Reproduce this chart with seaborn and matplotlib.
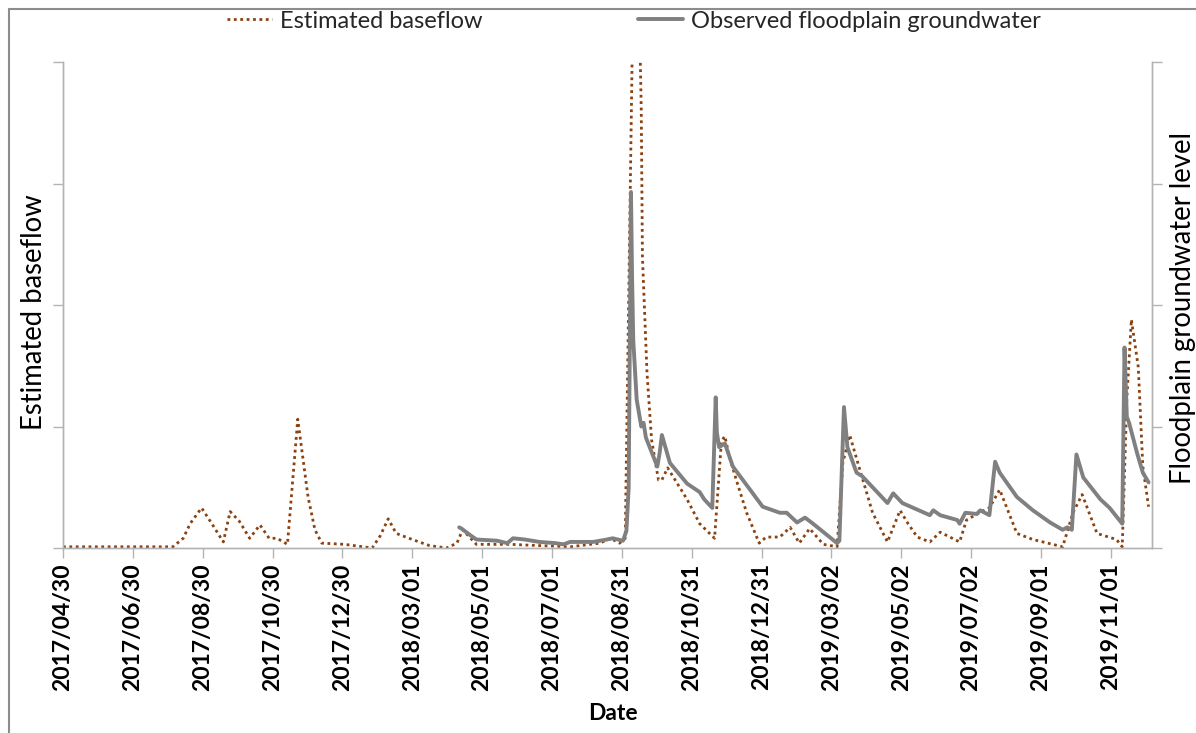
import matplotlib
matplotlib.use("Agg")
import matplotlib.pyplot as plt
from matplotlib.lines import Line2D
import seaborn as sns
import pandas as pd

# ---------------- data ----------------
baseflow_dates = [
    "2017-04-30", "2017-07-15", "2017-08-04", "2017-08-13", "2017-08-19", "2017-08-29",
    "2017-09-07", "2017-09-17", "2017-09-23", "2017-10-01", "2017-10-10", "2017-10-19",
    "2017-10-27", "2017-11-03", "2017-11-12", "2017-11-21", "2017-11-30", "2017-12-06",
    "2017-12-12", "2018-01-01", "2018-01-25", "2018-02-01", "2018-02-08", "2018-02-15",
    "2018-03-01", "2018-03-16", "2018-03-31", "2018-04-09", "2018-04-14", "2018-04-26",
    "2018-05-25", "2018-06-20", "2018-07-17", "2018-08-12", "2018-08-21", "2018-08-29",
    "2018-09-03", "2018-09-12", "2018-09-17", "2018-09-18", "2018-09-22", "2018-09-26",
    "2018-10-02", "2018-10-05", "2018-10-10", "2018-10-27", "2018-11-07", "2018-11-20",
    "2018-11-26", "2018-11-29", "2018-12-03", "2018-12-09", "2018-12-18", "2018-12-29",
    "2019-01-04", "2019-01-16", "2019-01-25", "2019-02-02", "2019-02-11", "2019-02-23",
    "2019-03-07", "2019-03-12", "2019-03-18", "2019-03-27", "2019-04-07", "2019-04-20",
    "2019-05-01", "2019-05-08", "2019-05-16", "2019-05-27", "2019-06-05", "2019-06-22",
    "2019-06-28", "2019-07-09", "2019-07-18", "2019-07-27", "2019-08-11", "2019-08-25",
    "2019-09-20", "2019-09-29", "2019-10-07", "2019-10-20", "2019-11-06", "2019-11-11",
    "2019-11-15", "2019-11-19", "2019-11-25", "2019-11-29", "2019-12-04",
]
baseflow_values = [
    0.01, 0.01, 0.01, 0.08, 0.20, 0.33,
    0.20, 0.05, 0.30, 0.22, 0.08, 0.19,
    0.08, 0.08, 0.03, 1.06, 0.42, 0.15,
    0.04, 0.03, 0.00, 0.10, 0.24, 0.12,
    0.07, 0.02, 0.00, 0.04, 0.15, 0.03,
    0.03, 0.02, 0.01, 0.04, 0.08, 0.04,
    0.08, 6.00, 3.60, 2.40, 1.44, 0.89,
    0.56, 0.56, 0.66, 0.40, 0.20, 0.08,
    0.88, 0.92, 0.75, 0.56, 0.29, 0.04,
    0.09, 0.09, 0.17, 0.04, 0.16, 0.03,
    0.01, 0.70, 0.93, 0.64, 0.29, 0.05,
    0.31, 0.20, 0.09, 0.05, 0.13, 0.05,
    0.23, 0.29, 0.33, 0.48, 0.12, 0.07,
    0.01, 0.29, 0.44, 0.12, 0.07, 0.01,
    1.22, 1.88, 1.49, 0.67, 0.34,
]

gw_dates = [
    "2018-04-11", "2018-04-13", "2018-04-20", "2018-04-26", "2018-05-14", "2018-05-23",
    "2018-05-28", "2018-06-07", "2018-06-20", "2018-07-04", "2018-07-11", "2018-07-17",
    "2018-08-06", "2018-08-18", "2018-08-23", "2018-09-01", "2018-09-04", "2018-09-06",
    "2018-09-08", "2018-09-09", "2018-09-10", "2018-09-13", "2018-09-17", "2018-09-19",
    "2018-09-21", "2018-10-01", "2018-10-03", "2018-10-05", "2018-10-12", "2018-10-27",
    "2018-11-07", "2018-11-11", "2018-11-18", "2018-11-21", "2018-11-22", "2018-11-24",
    "2018-11-29", "2018-12-06", "2018-12-21", "2019-01-01", "2019-01-10", "2019-01-16",
    "2019-01-22", "2019-01-31", "2019-02-07", "2019-02-14", "2019-03-07", "2019-03-09",
    "2019-03-13", "2019-03-16", "2019-03-24", "2019-03-29", "2019-04-20", "2019-04-25",
    "2019-05-03", "2019-05-27", "2019-05-30", "2019-06-05", "2019-06-20", "2019-06-22",
    "2019-06-27", "2019-07-07", "2019-07-10", "2019-07-18", "2019-07-23", "2019-07-27",
    "2019-08-11", "2019-08-25", "2019-09-09", "2019-09-20", "2019-09-24", "2019-09-28",
    "2019-10-02", "2019-10-08", "2019-10-23", "2019-10-31", "2019-11-11", "2019-11-13",
    "2019-11-15", "2019-11-17", "2019-11-24", "2019-11-29", "2019-12-04",
]
gw_values = [
    0.17, 0.16, 0.11, 0.07, 0.06, 0.04,
    0.08, 0.07, 0.05, 0.04, 0.03, 0.05,
    0.05, 0.07, 0.08, 0.06, 0.14, 0.50,
    2.93, 2.20, 1.71, 1.22, 1.00, 1.03,
    0.91, 0.67, 0.78, 0.93, 0.70, 0.53,
    0.46, 0.40, 0.33, 1.24, 0.95, 0.83,
    0.86, 0.67, 0.48, 0.34, 0.31, 0.29,
    0.29, 0.21, 0.25, 0.20, 0.04, 0.06,
    1.16, 0.83, 0.62, 0.59, 0.37, 0.45,
    0.37, 0.27, 0.31, 0.27, 0.23, 0.20,
    0.29, 0.28, 0.31, 0.27, 0.71, 0.62,
    0.42, 0.31, 0.21, 0.15, 0.17, 0.15,
    0.77, 0.58, 0.40, 0.33, 0.20, 1.65,
    1.08, 1.03, 0.78, 0.62, 0.54,
]

tick_labels = [
    "2017/04/30", "2017/06/30", "2017/08/30", "2017/10/30", "2017/12/30",
    "2018/03/01", "2018/05/01", "2018/07/01", "2018/08/31", "2018/10/31",
    "2018/12/31", "2019/03/02", "2019/05/02", "2019/07/02", "2019/09/01",
    "2019/11/01",
]

series_names = ["Estimated baseflow", "Observed floodplain groundwater"]
x_title = "Date"
left_title = "Estimated baseflow"
right_title = "Floodplain groundwater level"

# ---------------- frames ----------------
df_base = pd.DataFrame({"Date": pd.to_datetime(baseflow_dates), "value": baseflow_values})
df_gw = pd.DataFrame({"Date": pd.to_datetime(gw_dates), "value": gw_values})

# ---------------- style ----------------
sns.set_theme(style="white")
plt.rcParams["font.family"] = ["Lato", "DejaVu Sans"]

W, H = 1196, 733
fig = plt.figure(figsize=(W / 100, H / 100), dpi=100)
ax = fig.add_axes([63 / W, 1 - 548 / H, (1152 - 63) / W, (548 - 62) / H])
ax2 = ax.twinx()

base_color = "#8a4210"
gw_color = "#808080"
axis_color = "#b3b3b3"

sns.lineplot(data=df_base, x="Date", y="value", ax=ax, color=base_color,
             linewidth=2.0, linestyle=(0, (1, 1.3)), label=series_names[0], legend=False)
sns.lineplot(data=df_gw, x="Date", y="value", ax=ax2, color=gw_color,
             linewidth=2.8, label=series_names[1], legend=False)

for a in (ax, ax2):
    a.set_ylim(0, 4)
    a.set_yticks([0, 1, 2, 3, 4])
    a.set_yticklabels([])
    a.set_xlim(pd.Timestamp("2017-04-30"), pd.Timestamp("2019-12-07"))
    for s in a.spines.values():
        s.set_color(axis_color)
        s.set_linewidth(1.0)
    a.spines["top"].set_visible(False)
    a.set_ylabel("")
    a.grid(False)

ax.tick_params(axis="y", left=True, direction="out", length=7, width=1, color=axis_color)
ax2.tick_params(axis="y", right=True, direction="out", length=7, width=1, color=axis_color)

tick_pos = pd.to_datetime(tick_labels, format="%Y/%m/%d")
ax.set_xticks(tick_pos)
ax.set_xticklabels(tick_labels, rotation=90, fontsize=16.5, fontweight="bold", color="black")
ax.tick_params(axis="x", bottom=True, direction="out", length=7, width=1,
               color=axis_color, pad=4)

ax.set_xlabel(x_title, fontsize=16.5, fontweight="bold", color="black")
ax.xaxis.set_label_coords(0.505, (548 - 703) / 486)

fig.text(34 / W, 1 - 312 / H, left_title, rotation=90, ha="center", va="center",
         fontsize=19.8, color="black")
fig.text(1183 / W, 1 - 308 / H, right_title, rotation=90, ha="center", va="center",
         fontsize=19.8, color="black")

h1, l1 = ax.get_legend_handles_labels()
h2, l2 = ax2.get_legend_handles_labels()
fig.legend(h1 + h2, l1 + l2, loc="center", bbox_to_anchor=(634 / W, 1 - 21 / H), ncol=2,
           frameon=False, fontsize=17, handlelength=1.9, handletextpad=0.35,
           columnspacing=6.6, borderpad=0.2)

# chart-area border (left and top edges are visible in the reference)
fig.add_artist(Line2D([9 / W, 9 / W], [0, 1 - 9 / H], transform=fig.transFigure,
                      color="#8c8c8c", linewidth=1.5))
fig.add_artist(Line2D([9 / W, 1], [1 - 9 / H, 1 - 9 / H], transform=fig.transFigure,
                      color="#8c8c8c", linewidth=1.5))

fig.savefig("out.png", dpi=100)
